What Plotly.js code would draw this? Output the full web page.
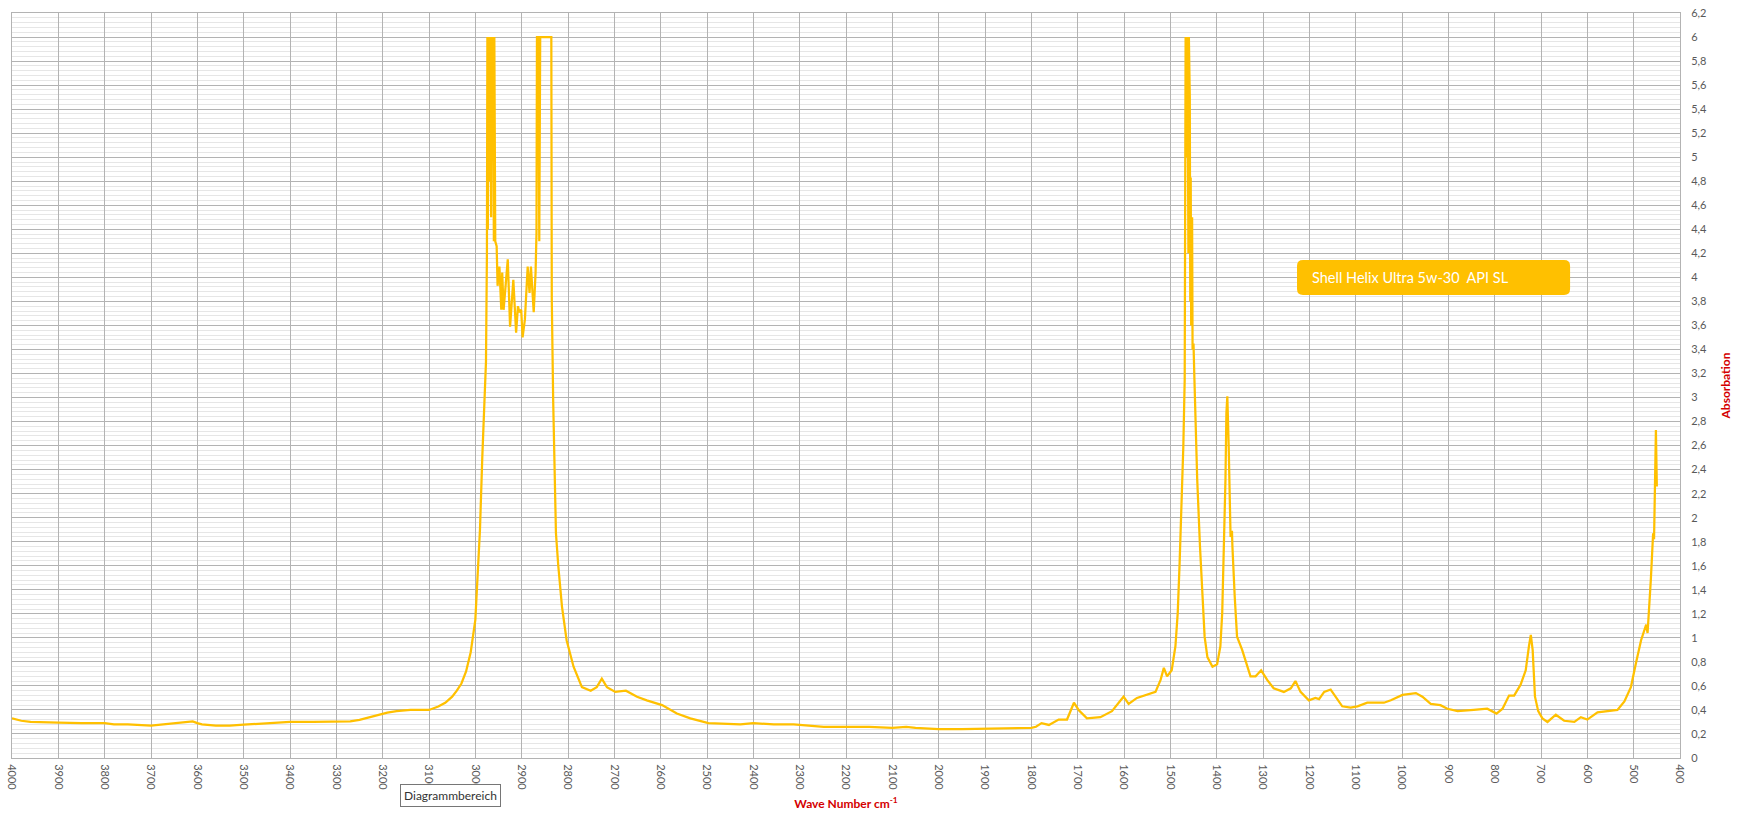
<!DOCTYPE html>
<html>
<head>
<meta charset="utf-8">
<script src="https://cdn.plot.ly/plotly-3.0.1.min.js"></script>
<style>
html,body{margin:0;padding:0;background:#fff;}
#chart{width:1743px;height:818px;}
</style>
</head>
<body>
<div id="chart"></div>
<script>
// Wave numbers (cm-1)
const wavenumber = [
4000,3980,3960,3940,3900,3850,3800,3780,3750,3700,3670,3650,3620,3610,3600,3590,3560,3530,3500,3450,
3420,3400,3350,3300,3270,3250,3220,3190,3170,3140,3100,3080,3065,3050,3040,3030,3020,3010,3000,2995,
2990,2985,2980,2977,2975,2974,2973,2972,2971,2970,2969,2968,2966,2965,2963,2962,2960,2959,2957,2954,
2952,2948,2944,2942,2939,2934,2930,2925,2921,2918,2912,2908,2905,2901,2898,2893,2887,2883,2880,2874,
2870,2868,2867,2864,2862,2860,2836,2835,2832,2829,2826,2821,2813,2803,2788,2770,2751,2738,2727,2716,
2698,2675,2651,2630,2597,2565,2536,2497,2428,2400,2356,2313,2284,2248,2212,2150,2100,2070,2050,2000,
1950,1900,1850,1800,1790,1778,1762,1741,1723,1708,1698,1680,1651,1626,1601,1590,1572,1550,1532,1521,
1514,1507,1497,1489,1484,1480,1476,1472,1469,1467,1465,1463,1461,1460,1458,1457,1456,1455,1453,1452,
1450,1448,1442,1436,1431,1426,1420,1409,1399,1392,1388,1385,1381,1379,1377,1374,1370,1367,1366,1361,
1356,1345,1338,1327,1316,1304,1291,1277,1255,1240,1230,1219,1201,1187,1179,1168,1154,1147,1129,1111,
1096,1075,1039,1024,999,970,956,938,917,902,880,845,816,796,783,769,758,744,733,726,
722,718,713,706,697,686,668,650,628,614,600,578,556,535,520,506,495,484,473,470,
463,458,456,454,452,450
];
// Absorbance values
const absorbation = [
0.33,0.31,0.30,0.30,0.295,0.29,0.29,0.28,0.28,0.27,0.28,0.29,0.30,0.305,0.29,0.28,0.27,0.27,0.278,0.29,
0.30,0.30,0.30,0.30,0.305,0.317,0.35,0.378,0.39,0.40,0.40,0.428,0.46,0.51,0.56,0.62,0.72,0.88,1.15,1.5,
1.9,2.5,3.0,3.3,4.2,6,4.4,6,4.8,6,5.2,6,4.5,6,5.0,6,4.3,6,4.3,4.26,
3.93,4.09,3.73,4.04,3.73,3.93,4.15,3.59,3.87,3.98,3.54,3.76,3.71,3.73,3.50,3.65,4.09,3.87,4.09,3.71,
4.04,4.37,6,6,4.3,6,6,3.82,2.98,2.43,1.87,1.60,1.26,0.98,0.76,0.59,0.56,0.59,0.66,0.59,
0.55,0.56,0.51,0.48,0.44,0.37,0.33,0.29,0.28,0.29,0.28,0.28,0.27,0.26,0.26,0.26,0.25,0.26,0.25,0.24,
0.24,0.245,0.245,0.25,0.26,0.29,0.275,0.32,0.32,0.46,0.40,0.33,0.34,0.39,0.51,0.45,0.50,0.53,0.55,0.65,
0.75,0.68,0.73,0.93,1.21,1.62,2.04,2.59,3.15,6,5.0,6,4.2,6,5.5,3.8,4.83,3.6,4.5,3.4,
3.45,3.15,2.32,1.76,1.34,1.01,0.84,0.76,0.78,0.93,1.21,1.62,2.32,2.87,3.01,2.59,1.84,1.89,1.76,1.34,
1.01,0.90,0.82,0.68,0.68,0.73,0.65,0.58,0.55,0.58,0.64,0.55,0.48,0.50,0.49,0.55,0.57,0.53,0.43,0.42,
0.43,0.46,0.46,0.48,0.525,0.54,0.51,0.45,0.44,0.41,0.39,0.40,0.41,0.37,0.41,0.52,0.52,0.61,0.73,0.93,
1.025,0.90,0.51,0.39,0.33,0.30,0.36,0.31,0.30,0.34,0.32,0.38,0.39,0.40,0.47,0.59,0.79,0.98,1.11,1.04,
1.48,1.87,1.82,2.32,2.73,2.26
];
const seriesName = "Shell Helix Ultra 5w-30\u00A0 API SL";
const xTitle = "<b>Wave Number cm<sup>-1</sup></b>";
const yTitle = "<b>Absorbation</b>";
const tooltipText = "Diagrammbereich";

const gold = "#FFC000";
const red = "#D40000";
const tickGray = "#595959";
const gridGray = "#B3B3B3";

const trace = {
  x: wavenumber, y: absorbation, type: "scatter", mode: "lines",
  name: seriesName, line: {color: gold, width: 2.25}, hoverinfo: "skip"
};

// rounded legend-like box in paper coordinates
const bx0 = 0.7704, bx1 = 0.9341, by0 = 0.6215, by1 = 0.6685;
const rx = 0.0036, ry = 0.008;
const boxPath = `M ${bx0+rx},${by1} L ${bx1-rx},${by1} Q ${bx1},${by1} ${bx1},${by1-ry} L ${bx1},${by0+ry} Q ${bx1},${by0} ${bx1-rx},${by0} L ${bx0+rx},${by0} Q ${bx0},${by0} ${bx0},${by0+ry} L ${bx0},${by1-ry} Q ${bx0},${by1} ${bx0+rx},${by1} Z`;

const layout = {
  width: 1743, height: 818,
  margin: {l: 12, r: 63, t: 13, b: 60, pad: 0},
  paper_bgcolor: "#fff", plot_bgcolor: "#fff",
  separators: ", ",
  showlegend: false,
  hovermode: false,
  font: {family: "Lato, 'Open Sans', sans-serif", size: 11, color: tickGray},
  xaxis: {
    range: [4000, 400], dtick: 100, tick0: 400,
    tickangle: 90, ticks: "", showgrid: true, gridcolor: gridGray, gridwidth: 1,
    zeroline: false, showline: true, linecolor: gridGray, mirror: true,
    tickfont: {size: 11, color: tickGray}, ticklabelstandoff: 3,
    title: {text: xTitle, font: {size: 12, color: red}, standoff: 10},
    automargin: false
  },
  yaxis: {
    range: [0, 6.2], dtick: 0.2, tick0: 0, side: "right",
    ticks: "", showgrid: true, gridcolor: gridGray, gridwidth: 1,
    zeroline: false, showline: true, linecolor: gridGray, mirror: true,
    tickfont: {size: 11, color: tickGray}, ticklabelstandoff: 8,
    minor: {dtick: 0.04, showgrid: true, gridcolor: "#E6E6E6", gridwidth: 1},
    title: {text: yTitle, font: {size: 12, color: red}, standoff: 15},
    automargin: false
  },
  shapes: [
    {type: "path", xref: "paper", yref: "paper", path: boxPath,
     fillcolor: gold, line: {width: 0}, layer: "above"}
  ],
  annotations: [
    {xref: "paper", yref: "paper", x: 0.7782, y: (by0+by1)/2, xanchor: "left", yanchor: "middle",
     text: seriesName, showarrow: false, font: {family: "Lato, sans-serif", size: 14.5, color: "#ffffff"}},
    {xref: "paper", yref: "paper", x: 0.2626, y: -0.0503, xanchor: "center", yanchor: "middle",
     text: tooltipText, showarrow: false, bgcolor: "#ffffff", bordercolor: "#767676", borderwidth: 1, borderpad: 3,
     font: {family: "Lato, sans-serif", size: 12, color: "#333333"}}
  ]
};

Plotly.newPlot("chart", [trace], layout, {displayModeBar: false, staticPlot: true});
</script>
</body>
</html>
